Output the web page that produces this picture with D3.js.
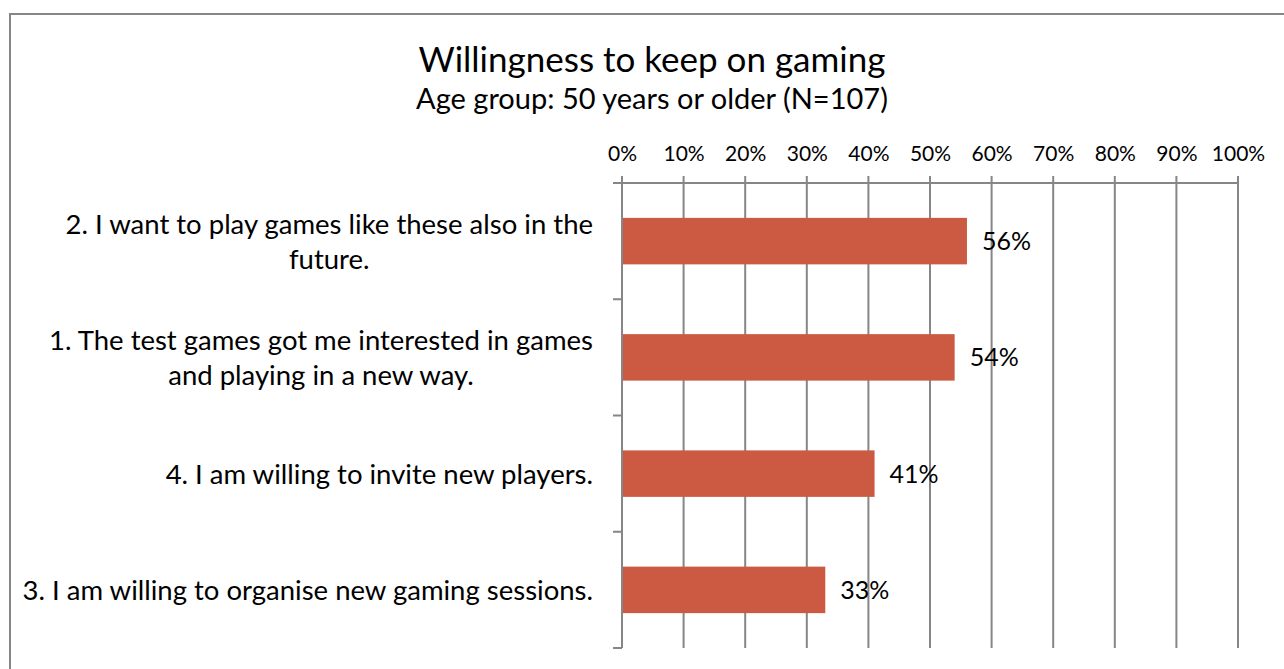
<!DOCTYPE html>
<html lang="en">
<head>
    <meta charset="UTF-8">
    <title>Willingness to keep on gaming</title>
    <script src="https://cdn.jsdelivr.net/npm/d3@7"></script>
    <style>
        body { margin: 0; background: #fff; }
        svg { display: block; }
        text { font-family: Lato, "Open Sans", sans-serif; fill: #000; }
    </style>
</head>
<body>
    <script>
        'use strict';
        // data
        var categories = [
            ['2. I want to play games like these also in the', 'future.'],
            ['1. The test games got me interested in games', 'and playing in a new way.'],
            ['4. I am willing to invite new players.'],
            ['3. I am willing to organise new gaming sessions.']
        ];
        var values = [56, 54, 41, 33];
        var ticks = [0, 10, 20, 30, 40, 50, 60, 70, 80, 90, 100];

        var w = 1284, h = 669;
        var plotL = 622, plotR = 1238, plotT = 183, plotB = 648;
        var grey = '#868686';

        var svg = d3.select('body').append('svg')
            .attr('width', w)
            .attr('height', h);

        // chart frame
        svg.append('rect')
            .attr('x', 10).attr('y', 14)
            .attr('width', w).attr('height', h)
            .attr('fill', 'none')
            .attr('stroke', grey)
            .attr('stroke-width', 2);

        svg.append('text')
            .attr('x', 652).attr('y', 72)
            .attr('text-anchor', 'middle')
            .attr('font-size', '35px')
            .text('Willingness to keep on gaming');
        svg.append('text')
            .attr('x', 652).attr('y', 109)
            .attr('text-anchor', 'middle')
            .attr('font-size', '29px')
            .text('Age group: 50 years or older (N=107)');

        var x = d3.scaleLinear().domain([0, 100]).range([plotL, plotR]);
        var y = d3.scaleBand()
            .domain(d3.range(categories.length))
            .range([plotT, plotB])
            .paddingInner(0.6)
            .paddingOuter(0.3);

        // gridlines
        svg.append('g').selectAll('line')
            .data(ticks)
            .enter().append('line')
            .attr('x1', d => x(d)).attr('x2', d => x(d))
            .attr('y1', plotT - 7).attr('y2', plotB)
            .attr('stroke', grey).attr('stroke-width', 2);

        // top axis
        var xAxis = svg.append('g')
            .attr('transform', 'translate(0,' + plotT + ')')
            .call(d3.axisTop(x).tickValues(ticks).tickSize(0).tickPadding(22)
                .tickFormat(d => d + '%'));
        xAxis.select('.domain').remove();
        xAxis.selectAll('text')
            .attr('font-size', '21px')
            .attr('font-family', 'Lato, "Open Sans", sans-serif')
            .attr('fill', '#000');
        svg.append('line')
            .attr('x1', plotL - 9).attr('x2', plotR)
            .attr('y1', plotT).attr('y2', plotT)
            .attr('stroke', grey).attr('stroke-width', 2);

        // left axis with category ticks
        svg.append('line')
            .attr('x1', plotL).attr('x2', plotL)
            .attr('y1', plotT).attr('y2', plotB)
            .attr('stroke', grey).attr('stroke-width', 2);
        var step = y.step();
        svg.append('g').selectAll('line')
            .data(d3.range(categories.length))
            .enter().append('line')
            .attr('x1', plotL - 9).attr('x2', plotL)
            .attr('y1', d => plotT + step * (d + 1))
            .attr('y2', d => plotT + step * (d + 1))
            .attr('stroke', grey).attr('stroke-width', 2);

        // bars
        svg.append('g').selectAll('rect')
            .data(values)
            .enter().append('rect')
            .attr('x', x(0) + 1)
            .attr('y', (d, i) => y(i))
            .attr('width', d => x(d) - x(0) - 1)
            .attr('height', y.bandwidth())
            .attr('fill', '#cc5a43');

        // value labels
        svg.append('g').selectAll('text')
            .data(values)
            .enter().append('text')
            .attr('x', d => x(d) + 15)
            .attr('y', (d, i) => y(i) + y.bandwidth() / 2 + 9)
            .attr('font-size', '25px')
            .text(d => d + '%');

        // category labels, lines centred in a block whose right edge is fixed
        var labelRight = 593;
        categories.forEach(function (lines, i) {
            var g = svg.append('g');
            var cy = y(i) + y.bandwidth() / 2;
            var lh = 35;
            var t = g.selectAll('text')
                .data(lines)
                .enter().append('text')
                .attr('font-size', '27.5px')
                .attr('text-anchor', 'middle')
                .attr('y', (d, j) => cy + 10 + (j - (lines.length - 1) / 2) * lh)
                .text(d => d);
            var maxW = d3.max(t.nodes(), n => n.getComputedTextLength());
            t.attr('x', labelRight - maxW / 2);
        });
    </script>
</body>
</html>
